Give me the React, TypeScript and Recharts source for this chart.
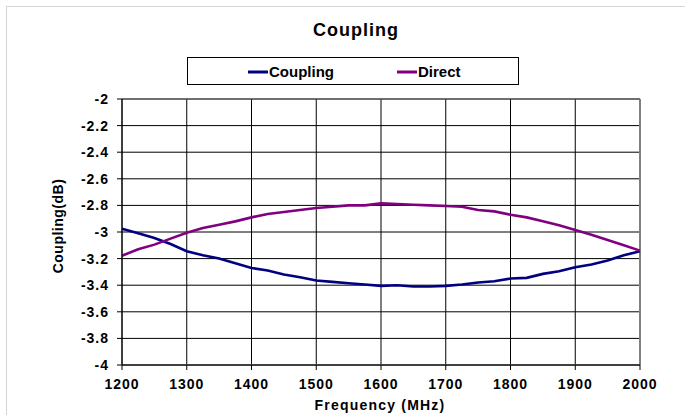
import { LineChart, Line, XAxis, YAxis, CartesianGrid, ReferenceLine } from "recharts";

const FREQ = [
  1200, 1225, 1250, 1275, 1300, 1325, 1350, 1375, 1400, 1425, 1450, 1475, 1500, 1525, 1550, 1575, 1600,
  1625, 1650, 1675, 1700, 1725, 1750, 1775, 1800, 1825, 1850, 1875, 1900, 1925, 1950, 1975, 2000,
];

const COUPLING = [
  -2.975, -3.01, -3.045, -3.09, -3.145, -3.175, -3.2, -3.235, -3.27, -3.29, -3.32, -3.34, -3.365, -3.375,
  -3.385, -3.395, -3.405, -3.4, -3.41, -3.41, -3.405, -3.395, -3.38, -3.37, -3.35, -3.345, -3.315, -3.295,
  -3.265, -3.245, -3.215, -3.175, -3.145,
];

const DIRECT = [
  -3.178, -3.13, -3.095, -3.05, -3.005, -2.97, -2.945, -2.92, -2.89, -2.865, -2.85, -2.835, -2.82, -2.81,
  -2.8, -2.8, -2.785, -2.79, -2.795, -2.8, -2.805, -2.81, -2.835, -2.845, -2.87, -2.89, -2.92, -2.95,
  -2.985, -3.02, -3.06, -3.1, -3.14,
];

const X_TICKS = [1200, 1300, 1400, 1500, 1600, 1700, 1800, 1900, 2000];
const Y_TICKS = [-4, -3.8, -3.6, -3.4, -3.2, -3, -2.8, -2.6, -2.4, -2.2, -2];

const FONT = '"Liberation Sans", Arial, sans-serif';
const BLUE = "#000080";
const PURPLE = "#800080";

const data = FREQ.map((f, i) => ({ f, coupling: COUPLING[i], direct: DIRECT[i] }));

const tickStyle = { fill: "#000", fontSize: 14, fontWeight: "bold", fontFamily: FONT, letterSpacing: 1 };

export default function App() {
  return (
    <div
      style={{
        position: "absolute",
        left: 0,
        top: 0,
        width: 685,
        height: 415,
        overflow: "hidden",
        background: "#fff",
      }}
    >
      <LineChart width={685} height={415} data={data} margin={{ top: 99, right: 45, bottom: 0, left: 0 }}>
        <CartesianGrid stroke="#000" strokeWidth={1} />
        <XAxis
          type="number"
          dataKey="f"
          domain={[1200, 2000]}
          ticks={X_TICKS}
          interval={0}
          height={50}
          tick={tickStyle}
          tickSize={5}
          tickMargin={9}
          tickLine={{ stroke: "#000" }}
          axisLine={{ stroke: "#404040", strokeWidth: 2 }}
        />
        <YAxis
          type="number"
          domain={[-4, -2]}
          ticks={Y_TICKS}
          interval={0}
          width={122}
          tick={tickStyle}
          tickSize={5}
          tickMargin={8}
          tickLine={{ stroke: "#000" }}
          axisLine={{ stroke: "#000" }}
          tickFormatter={(v) => String(v)}
        />
        <ReferenceLine x={2000} stroke="#808080" strokeWidth={2} />
        <ReferenceLine y={-2} stroke="#606060" strokeWidth={1} />
        <Line
          type="linear"
          dataKey="coupling"
          stroke={BLUE}
          strokeWidth={2.6}
          dot={false}
          isAnimationActive={false}
        />
        <Line
          type="linear"
          dataKey="direct"
          stroke={PURPLE}
          strokeWidth={2.6}
          dot={false}
          isAnimationActive={false}
        />
      </LineChart>
      <svg
        width={685}
        height={415}
        style={{ position: "absolute", left: 0, top: 0, pointerEvents: "none" }}
        fontFamily={FONT}
        fontWeight="bold"
      >
        <rect x={6.5} y={6.5} width={700} height={420} fill="none" stroke="#d4d4d4" />
        <text x={356} y={36} textAnchor="middle" fontSize={18} letterSpacing={1}>
          Coupling
        </text>
        <rect x={187.5} y={57.5} width={331} height={27} fill="none" stroke="#000" />
        <line x1={248} x2={268} y1={72} y2={72} stroke={BLUE} strokeWidth={3} />
        <text x={269} y={77} fontSize={15}>
          Coupling
        </text>
        <line x1={397} x2={417} y1={72} y2={72} stroke={PURPLE} strokeWidth={3} />
        <text x={418} y={77} fontSize={15}>
          Direct
        </text>
        <text x={380} y={410} textAnchor="middle" fontSize={14} letterSpacing={1.2}>
          Frequency (MHz)
        </text>
        <text
          x={63}
          y={226}
          textAnchor="middle"
          fontSize={14}
          letterSpacing={0.5}
          transform="rotate(-90 63 226)"
        >
          Coupling(dB)
        </text>
      </svg>
    </div>
  );
}
